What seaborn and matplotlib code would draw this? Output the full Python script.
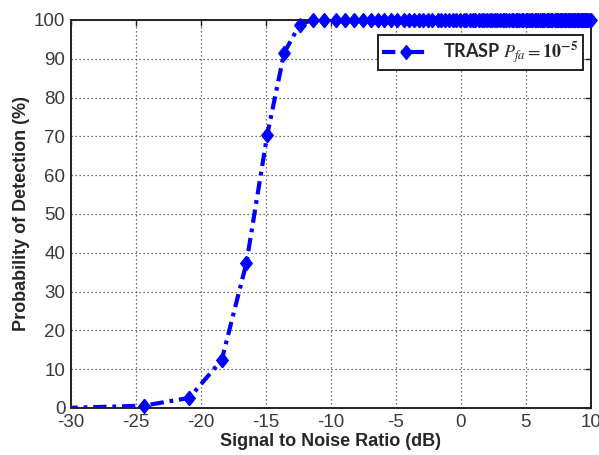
import numpy as np
import pandas as pd
import matplotlib
matplotlib.use('Agg')
import matplotlib.pyplot as plt
import seaborn as sns

snr_db = [-30.5, -24.4, -20.9, -18.4, -16.5, -14.9, -13.6, -12.4, -11.4, -10.5,
          -9.6, -8.9, -8.2, -7.5, -6.9, -6.4, -5.9, -5.4, -4.9, -4.4,
          -4.0, -3.6, -3.2, -2.9, -2.5, -2.2, -1.8, -1.5, -1.2, -0.9,
          -0.6, -0.4, -0.1, 0.2, 0.4, 0.7, 0.9, 1.1, 1.4, 1.6,
          1.8, 2.0, 2.2, 2.4, 2.6, 2.8, 3.0, 3.2, 3.3, 3.5,
          3.7, 3.9, 4.0, 4.2, 4.3, 4.5, 4.7, 4.8, 5.0, 5.1,
          5.2, 5.4, 5.5, 5.7, 5.8, 5.9, 6.1, 6.2, 6.3, 6.4,
          6.6, 6.7, 6.8, 6.9, 7.0, 7.2, 7.3, 7.4, 7.5, 7.6,
          7.7, 7.8, 7.9, 8.0, 8.1, 8.2, 8.3, 8.4, 8.5, 8.6,
          8.7, 8.8, 8.9, 9.0, 9.1, 9.2, 9.3, 9.4, 9.5, 9.55,
          9.6, 9.7, 9.8, 9.9, 10.0]
pd_head = [0.0, 0.6, 2.6, 12.4, 37.4, 70.4, 91.5, 98.8]
pd_tail = [100.0] * (len(snr_db) - len(pd_head))
pdet = pd_head + pd_tail

x_ticks = [-30, -25, -20, -15, -10, -5, 0, 5, 10]
y_ticks = [0, 10, 20, 30, 40, 50, 60, 70, 80, 90, 100]

df = pd.DataFrame({'snr': snr_db, 'pd': pdet})

sns.set_style('white')
plt.rcParams['font.family'] = ['Liberation Sans', 'DejaVu Sans']
plt.rcParams['mathtext.fontset'] = 'stix'
plt.rcParams['axes.unicode_minus'] = False

# fat diamond, a bit taller than wide (matlab style)
diamond = [(0, 1), (0.8, 0), (0, -1), (-0.8, 0), (0, 1)]
blue = '#0000ff'

fig = plt.figure(figsize=(5.99, 4.55), dpi=100)
ax = fig.add_axes([0.1185, 0.1033, 0.868, 0.853])

sns.lineplot(data=df, x='snr', y='pd', ax=ax, estimator=None, errorbar=None,
             color=blue, linewidth=3, linestyle=(0, (3.2, 1.4, 0.9, 1.4)),
             marker=diamond, markersize=10, markeredgecolor=blue,
             markeredgewidth=1, label=r'TRASP $P_{fa}=\mathbf{10^{-5}}$')
# markers inside the x range are drawn whole, even over the frame
inside = df[df.snr >= -30]
pts = ax.scatter(inside.snr, inside.pd, marker=diamond, s=100, color=blue,
                 edgecolor=blue, linewidth=1, zorder=5)
pts.set_clip_on(False)

ax.set_xlim(-30, 10)
ax.set_ylim(0, 100)
ax.set_xticks(x_ticks)
ax.set_yticks(y_ticks)
ax.grid(True, color='#444444', linestyle=(0, (1, 2.2)), linewidth=0.9)
for s in ax.spines.values():
    s.set_color('#222222')
    s.set_linewidth(1.4)
ax.tick_params(direction='in', top=True, right=True, length=4, width=1,
               labelsize=13.5, colors='#222222', pad=4)
for lab in ax.get_xticklabels() + ax.get_yticklabels():
    lab.set_color('#3a3a3a')

ax.set_xlabel('Signal to Noise Ratio (dB)', fontsize=13, fontweight='bold', labelpad=2)
ax.set_ylabel('Probability of Detection (%)', fontsize=13, fontweight='bold', labelpad=3)

leg = ax.legend(loc='upper right', bbox_to_anchor=(0.985, 0.961), borderaxespad=0,
                fancybox=False, frameon=True, edgecolor='#222222', framealpha=1,
                handlelength=2.6, borderpad=0.25,
                prop={'family': 'Lato', 'weight': 'bold', 'size': 13})
leg.get_frame().set_linewidth(1.4)

fig.savefig('out.png', dpi=100)
